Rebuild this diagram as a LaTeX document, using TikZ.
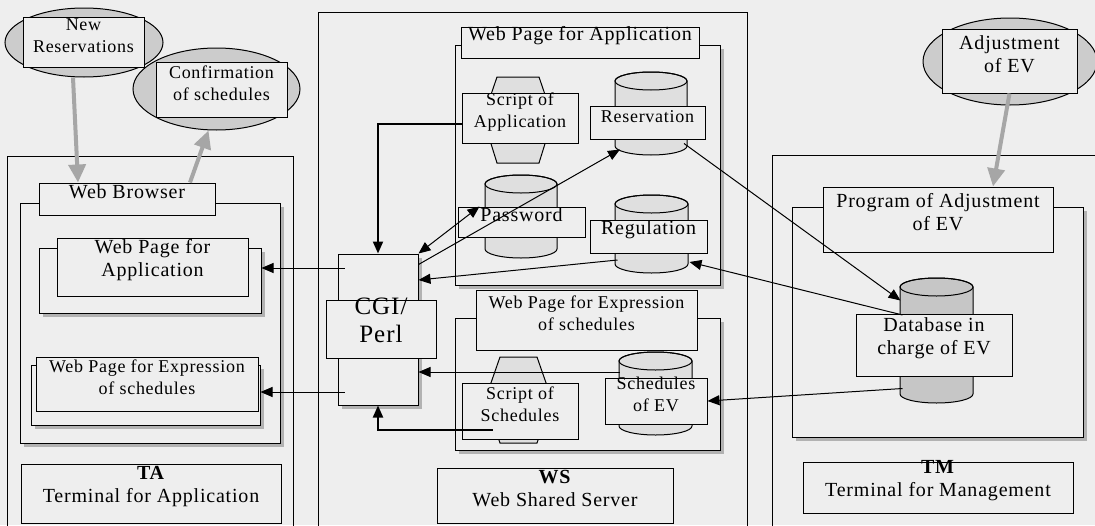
\documentclass[tikz,border=0pt]{standalone}
\usepackage{fontspec}
\setmainfont{Liberation Serif}[LetterSpace=4]
\usetikzlibrary{arrows.meta,shapes.geometric,shadows,fit,calc}

\definecolor{paper}{RGB}{238,238,238}
\newcommand{\lblfont}{\fontsize{20}{23}\selectfont}
\newcommand{\smallfont}{\fontsize{18}{22}\selectfont}

% database drum: fill, name, x1, y1, x2, y2
\newcommand{\drumshape}[6][gray!25]{%
  \pgfmathsetmacro{\drumrx}{(#5-#3)/2}%
  \pgfmathsetmacro{\drumcx}{(#3+#5)/2}%
  \filldraw[fill=#1, line width=1pt] (#3,#4+9) -- (#3,#6-9)
    arc[start angle=180, end angle=0, x radius=\drumrx, y radius=9] -- (#5,#4+9)
    arc[start angle=0, end angle=-180, x radius=\drumrx, y radius=9] -- cycle;
  \draw[line width=1pt] (\drumcx,#4+9) ellipse[x radius=\drumrx, y radius=9];
  \node[inner sep=0pt, fit={(#3,#4) (#5,#6)}] (#2) {};
}

\tikzset{
  lbl/.style={draw, fill=paper, inner sep=0pt, align=center, font=\lblfont, line width=1pt},
  frame/.style={draw, fill=paper, inner sep=0pt, line width=1pt,
    drop shadow={shadow xshift=4pt, shadow yshift=-4pt, fill=gray!60, opacity=1}},
  outerbox/.style={draw, line width=1pt},
  script/.style={draw, fill=gray!25, line width=1pt},
  actor/.style={ellipse, draw, fill=gray!40, inner sep=0pt, line width=1pt},
  link/.style={-{Triangle[length=12pt,width=10pt]}, line width=1pt},
  thicklink/.style={link, line width=2pt},
  userarrow/.style={-{Triangle[length=18pt,width=17pt]}, line width=4pt, gray!70}
}

\begin{document}
\begin{tikzpicture}[x=1pt,y=-1pt]
  \fill[paper] (0,0) rectangle (1095,525);
  \useasboundingbox (0,0) rectangle (1095,525);

  % outer terminals
  \draw[outerbox] (7,530) -- (7,156) -- (293,156) -- (293,530);
  \draw[outerbox] (318,530) -- (318,12) -- (747,12) -- (747,530);
  \draw[outerbox] (772,530) -- (772,155) -- (1100,155);

  % TA
  \node[actor, minimum width=158pt, minimum height=69pt] (newres) at (84,42.5) {};
  \node[lbl, font=\smallfont, fit={(23,17) (144,67)}] (newreslbl) {New\\Reservations};
  \node[actor, minimum width=167pt, minimum height=82pt] (confirm) at (216.5,89) {};
  \node[lbl, font=\smallfont, fit={(156,62) (287,117)}] (confirmlbl) {Confirmation\\of schedules};

  \node[frame, fit={(20,203) (280,443)}] (browser) {};
  \node[lbl, fit={(39,183) (215,215)}] (browserlbl) {Web Browser};
  \node[frame, fit={(39,248) (261,313)}] (tawpa) {};
  \node[lbl, fit={(57,238) (248,296)}] (tawpalbl) {Web Page for\\Application};
  \node[frame, fit={(31,365) (260,425)}] (tawpe) {};
  \node[lbl, font=\smallfont, fit={(36,357) (258,411)}] (tawpelbl) {Web Page for Expression\\of schedules};
  \node[lbl, fit={(21,464) (281,523)}] (ta) {\textbf{TA}\\Terminal for Application};

  % WS
  \node[frame, fit={(455,45) (720,285)}] (wpa) {};
  \node[lbl, fit={(461,27) (699,58)}] (wpalbl) {Web Page for Application};
  \draw[script] (497,77) -- (539,77) -- (553,118) -- (539,163) -- (497,163) -- (483,118) -- cycle;
  \node[lbl, font=\smallfont, fit={(462,93) (578,143)}] (scriptapp) {Script of\\Application};
  \drumshape{rescyl}{615}{72}{687}{155}
  \node[lbl, font=\smallfont, fit={(590,106) (705,139)}] (reslbl) {Reservation};
  \drumshape{pwdcyl}{485}{175}{557}{258}
  \node[lbl, fit={(458,207) (585,237)}] (pwdlbl) {Password};
  \drumshape{regcyl}{615}{195}{688}{273}
  \node[lbl, fit={(590,220) (707,253)}] (reglbl) {Regulation};

  \node[frame, fit={(338,254) (418,405)}] (cgi) {};
  \node[lbl, fit={(326,300) (436,358)}, font=\fontsize{25}{28}\selectfont] (cgilbl) {CGI/\\Perl};

  \node[frame, fit={(455,318) (720,450)}] (wpe) {};
  \node[lbl, font=\smallfont, fit={(476,290) (697,350)}] (wpelbl) {Web Page for Expression\\of schedules};
  \draw[script] (500,357) -- (537,357) -- (552,400) -- (537,443) -- (500,443) -- (485,400) -- cycle;
  \node[lbl, font=\smallfont, fit={(462,383) (578,439)}] (scriptsch) {Script of\\Schedules};
  \drumshape{schevcyl}{619}{352}{692}{435}
  \node[lbl, font=\smallfont, fit={(605,378) (707,424)}] (schevlbl) {Schedules\\of EV};
  \node[lbl, fit={(437,468) (673,523)}] (ws) {\textbf{WS}\\Web Shared Server};

  % TM
  \node[actor, minimum width=174pt, minimum height=87pt] (adjust) at (1010,61.5) {};
  \node[lbl, fit={(942,29) (1077,93)}] (adjustlbl) {Adjustment\\of EV};
  \node[frame, fit={(792,207) (1083,437)}] (prog) {};
  \node[lbl, fit={(823,187) (1053,252)}] (proglbl) {Program of Adjustment\\of EV};
  \drumshape[gray!45]{dbcyl}{900}{278}{973}{403}
  \node[lbl, fit={(856,314) (1012,376)}] (dblbl) {Database in\\charge of EV};
  \node[lbl, fit={(803,462) (1073,513)}] (tm) {\textbf{TM}\\Terminal for Management};

  % links
  \draw[thicklink] ([yshift=-6pt]scriptapp.west) -| (cgi.north);
  \draw[thicklink] ([shift={(31pt,-19pt)}]scriptsch.west) -| (cgi.south);
  \draw[link, {Triangle[length=12pt,width=10pt]}-{Triangle[length=12pt,width=10pt]}]
    (cgi.north east) -- ([xshift=22pt]pwdlbl.north west);
  \draw[link] ([yshift=-11pt]cgi.north east) -- ([shift={(-31pt,-36pt)}]rescyl.center);
  \draw[link] ([shift={(-34pt,-26pt)}]regcyl.center) -- ([yshift=49.5pt]cgi.east);
  \draw[link] ([shift={(33pt,-30pt)}]rescyl.center) -- ([shift={(-36pt,40pt)}]dbcyl.center);
  \draw[link] ([shift={(-34pt,25.5pt)}]dbcyl.center) -- ([shift={(38pt,-28pt)}]regcyl.center);
  \draw[link] ([shift={(-34pt,-48pt)}]dbcyl.center) -- (schevlbl.east);
  \draw[link] ([shift={(-36pt,21.5pt)}]schevcyl.center) -- ([yshift=-42.5pt]cgi.east);
  \draw[link] ([shift={(7pt,61.5pt)}]cgi.west) -- ([yshift=61.5pt]cgi.west -| tawpa.east);
  \draw[link] ([shift={(7pt,-62.5pt)}]cgi.west) -- ([yshift=-62.5pt]cgi.west -| tawpe.east);

  % users
  \draw[userarrow] ([xshift=-11pt]newres.south) -- ([xshift=-49pt]browserlbl.north);
  \draw[userarrow] ([xshift=63pt]browserlbl.north) -- ([xshift=-8pt]confirm.south);
  \draw[userarrow] (adjustlbl.south) -- ([xshift=55pt]proglbl.north);
\end{tikzpicture}
\end{document}
